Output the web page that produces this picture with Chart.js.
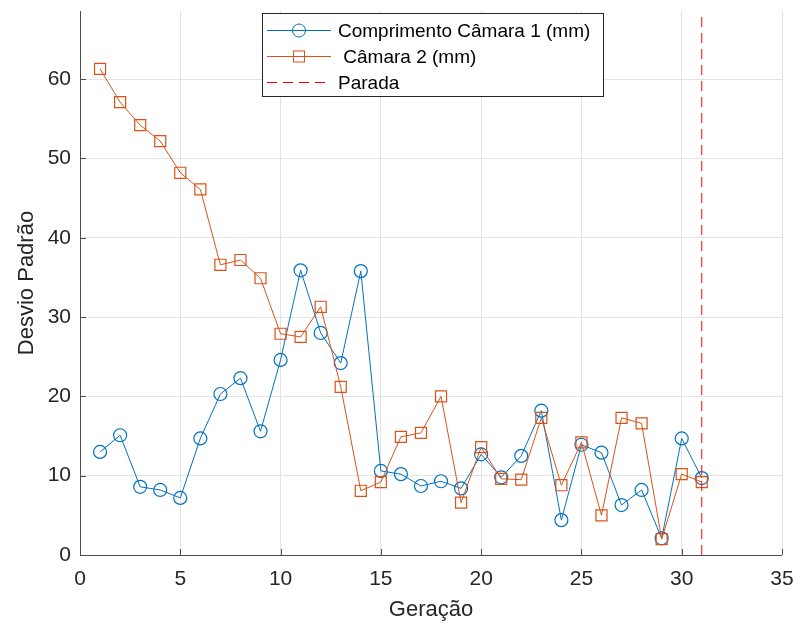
<!DOCTYPE html>
<html>
<head>
<meta charset="utf-8">
<script src="https://cdn.jsdelivr.net/npm/chart.js@4"></script>
<style>
  html, body { margin: 0; padding: 0; background: #fff; }
  #wrap { width: 798px; height: 623px; }
</style>
</head>
<body>
<div id="wrap"><canvas id="c" width="798" height="623"></canvas></div>
<script>
// Generation index
const geracao = [1,2,3,4,5,6,7,8,9,10,11,12,13,14,15,16,17,18,19,20,21,22,23,24,25,26,27,28,29,30,31];
// Standard deviation, camera 1 length (mm)
const camara1 = [13.0,15.1,8.6,8.2,7.2,14.7,20.3,22.3,15.6,24.6,35.9,28.0,24.2,35.8,10.6,10.2,8.7,9.3,8.4,12.7,9.8,12.5,18.2,4.4,13.9,12.9,6.3,8.2,2.1,14.7,9.7];
// Standard deviation, camera 2 (mm)
const camara2 = [61.3,57.1,54.2,52.2,48.2,46.1,36.6,37.2,34.9,27.9,27.5,31.3,21.2,8.1,9.2,14.9,15.4,20.0,6.6,13.6,9.6,9.5,17.3,8.8,14.2,5.0,17.3,16.6,2.0,10.2,9.2];
// Stopping generation
const parada = 31;
const xTicks = [0,5,10,15,20,25,30,35];
const yTicks = [0,10,20,30,40,50,60];
const xRange = [0, 35];
const yRange = [0, 68.6];

const labels = ['Comprimento Câmara 1 (mm)', ' Câmara 2 (mm)', 'Parada'];
const FONT = '"Liberation Sans", Arial, Helvetica, sans-serif';
const AXIS = '#262626';
const BLUE = '#0072BD';
const ORANGE = '#D95319';
const RED = '#FF0000';

// Inward tick marks and the left/bottom axis lines
const innerTicks = {
  id: 'innerTicks',
  afterDatasetsDraw(chart) {
    const {ctx, chartArea: a, scales: {x, y}} = chart;
    ctx.save();
    ctx.strokeStyle = '#4d4d4d';
    ctx.lineWidth = 1;
    ctx.beginPath();
    xTicks.forEach(v => {
      const px = Math.round(x.getPixelForValue(v)) + 0.5;
      ctx.moveTo(px, a.bottom); ctx.lineTo(px, a.bottom - 6);
    });
    yTicks.forEach(v => {
      const py = Math.round(y.getPixelForValue(v)) + 0.5;
      ctx.moveTo(a.left, py); ctx.lineTo(a.left + 6, py);
    });
    ctx.stroke();
    ctx.beginPath();
    ctx.moveTo(a.left + 0.5, a.top); ctx.lineTo(a.left + 0.5, a.bottom + 0.5);
    ctx.lineTo(a.right, a.bottom + 0.5);
    ctx.stroke();
    ctx.restore();
  }
};

// Boxed legend inside the plot area
const boxLegend = {
  id: 'boxLegend',
  afterDraw(chart) {
    const ctx = chart.ctx;
    const bx = 262.5, by = 13.5, bw = 341, bh = 83;
    ctx.save();
    ctx.fillStyle = '#fff';
    ctx.fillRect(bx, by, bw, bh);
    ctx.strokeStyle = AXIS;
    ctx.lineWidth = 1;
    ctx.strokeRect(bx, by, bw, bh);
    const rows = [30, 56, 82];
    const x0 = 267, x1 = 331, xm = 299;
    ctx.font = '19px ' + FONT;
    ctx.textBaseline = 'middle';
    chart.data.datasets.forEach((ds, i) => {
      const yy = rows[i] + 0.5;
      ctx.strokeStyle = ds.borderColor;
      ctx.lineWidth = 1;
      ctx.setLineDash(ds.borderDash || []);
      ctx.beginPath(); ctx.moveTo(x0, yy); ctx.lineTo(x1, yy); ctx.stroke();
      ctx.setLineDash([]);
      if (ds.pointStyle === 'circle') {
        ctx.beginPath(); ctx.arc(xm, yy, ds.pointRadius, 0, Math.PI * 2); ctx.stroke();
      } else if (ds.pointStyle === 'rect') {
        const s = ds.pointRadius * Math.SQRT1_2;
        ctx.strokeRect(xm - s, yy - s, 2 * s, 2 * s);
      }
      ctx.fillStyle = '#000';
      ctx.fillText(ds.label, 338, yy + 1);
    });
    ctx.restore();
  }
};

const toXY = (xs, ys) => xs.map((v, i) => ({x: v, y: ys[i]}));

new Chart(document.getElementById('c'), {
  type: 'line',
  data: {
    datasets: [
      {
        label: labels[0], data: toXY(geracao, camara1),
        borderColor: BLUE, borderWidth: 1, pointStyle: 'circle', pointRadius: 6.5,
        pointBorderColor: BLUE, pointBackgroundColor: 'rgba(0,0,0,0)', pointBorderWidth: 1.2,
        tension: 0, order: 2
      },
      {
        label: labels[1], data: toXY(geracao, camara2),
        borderColor: ORANGE, borderWidth: 1, pointStyle: 'rect', pointRadius: 7.8,
        pointBorderColor: ORANGE, pointBackgroundColor: 'rgba(0,0,0,0)', pointBorderWidth: 1.2,
        tension: 0, order: 1
      },
      {
        label: labels[2], data: [{x: parada, y: yRange[0]}, {x: parada, y: yRange[1]}],
        borderColor: RED, borderWidth: 1, borderDash: [10, 6], pointRadius: 0,
        tension: 0, order: 0
      }
    ]
  },
  options: {
    responsive: false,
    animation: false,
    layout: { padding: { top: 11, right: 16, left: 0, bottom: 0 } },
    plugins: { legend: { display: false }, tooltip: { enabled: false } },
    scales: {
      x: {
        type: 'linear', min: xRange[0], max: xRange[1],
        afterBuildTicks: s => { s.ticks = xTicks.map(v => ({value: v})); },
        afterFit: s => { s.height = 68; s.paddingLeft = 0; s.paddingRight = 0; },
        grid: { color: '#e3e3e3', drawTicks: false },
        border: { display: false },
        ticks: { color: AXIS, font: { family: FONT, size: 21 }, padding: 12, maxRotation: 0 },
        title: { display: true, text: 'Geração', color: AXIS, font: { family: FONT, size: 22 }, padding: { top: 0, bottom: 0 } }
      },
      y: {
        type: 'linear', min: yRange[0], max: yRange[1],
        afterBuildTicks: s => { s.ticks = yTicks.map(v => ({value: v})); },
        afterFit: s => { s.width = 80; s.paddingTop = 0; s.paddingBottom = 0; },
        grid: { color: '#e3e3e3', drawTicks: false },
        border: { display: false },
        ticks: { color: AXIS, font: { family: FONT, size: 21 }, padding: 9 },
        title: { display: true, text: 'Desvio Padrão', color: AXIS, font: { family: FONT, size: 22 }, padding: { top: 14, bottom: 0 } }
      }
    }
  },
  plugins: [innerTicks, boxLegend]
});
</script>
</body>
</html>
